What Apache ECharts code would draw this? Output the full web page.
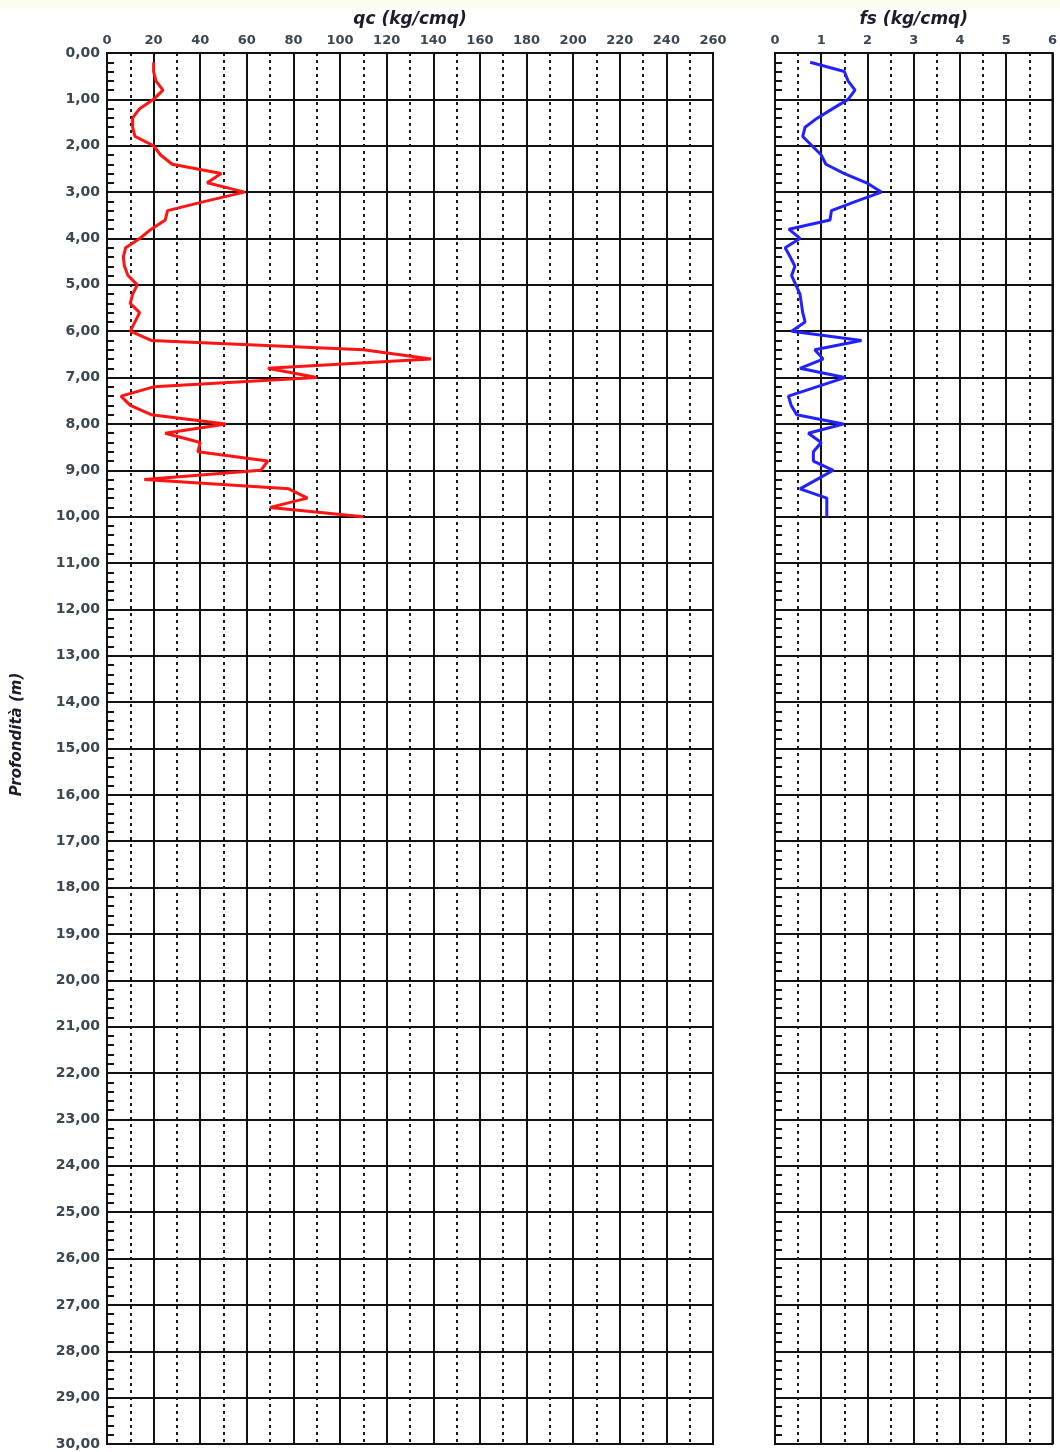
<!DOCTYPE html>
<html>
<head>
<meta charset="utf-8">
<title>Prova penetrometrica statica - qc / fs</title>
<script src="https://cdn.jsdelivr.net/npm/echarts@6/dist/echarts.min.js"></script>
<style>
  html, body { margin: 0; padding: 0; background: #ffffff; }
  #chart { width: 1060px; height: 1452px; }
</style>
</head>
<body>
<div id="chart"></div>
<script>
// Depths (m) at which the readings were taken
const depths = [
  0.2, 0.4, 0.6, 0.8, 1.0, 1.2, 1.4, 1.6, 1.8, 2.0,
  2.2, 2.4, 2.6, 2.8, 3.0, 3.2, 3.4, 3.6, 3.8, 4.0,
  4.2, 4.4, 4.6, 4.8, 5.0, 5.2, 5.4, 5.6, 5.8, 6.0,
  6.2, 6.4, 6.6, 6.8, 7.0, 7.2, 7.4, 7.6, 7.8, 8.0,
  8.2, 8.4, 8.6, 8.8, 9.0, 9.2, 9.4, 9.6, 9.8, 10.0
];

// Cone resistance qc (kg/cmq)
const qcValues = [
  20, 20, 21, 24, 20, 14, 11, 11, 12, 20,
  23, 28, 49, 43, 59, 42, 26, 25, 19, 14,
  8, 7, 7.5, 9, 13, 11, 10, 14, 12, 10,
  19, 110, 139, 69, 90, 20, 6, 10, 19, 51,
  25, 40, 39, 69, 66, 16, 78, 86, 70, 110
];

// Sleeve friction fs (kg/cmq)
const fsValues = [
  0.76, 1.5, 1.58, 1.73, 1.58, 1.25, 0.92, 0.65, 0.6, 0.8,
  1.0, 1.1, 1.5, 1.98, 2.3, 1.75, 1.22, 1.19, 0.3, 0.54,
  0.22, 0.33, 0.43, 0.36, 0.45, 0.54, 0.57, 0.6, 0.65, 0.36,
  1.87, 0.86, 1.04, 0.54, 1.51, 0.9, 0.29, 0.35, 0.47, 1.48,
  0.72, 1.0, 0.83, 0.83, 1.26, 0.9, 0.54, 1.12, 1.12, 1.12
];

// Axis ranges
const depthMax = 30;
const qcMax = 260, qcStep = 20;
const fsMax = 6, fsStep = 1;

const FONT = '"DejaVu Sans", Verdana, sans-serif';
const labelColor = '#3a4650';
const gridColor = '#111111';

const chart = echarts.init(document.getElementById('chart'), null, { renderer: 'canvas' });

function depthLabel(v) {
  return v.toFixed(2).replace('.', ',');
}

function makeXAxis(gridIndex, max, step, name) {
  return {
    type: 'value',
    gridIndex: gridIndex,
    position: 'top',
    min: 0,
    max: max,
    interval: step,
    name: name,
    nameLocation: 'middle',
    nameGap: 25,
    nameTextStyle: { fontFamily: FONT, fontSize: 17, fontWeight: 'bold', fontStyle: 'italic', color: '#1c1c2a' },
    axisLine: { show: true, lineStyle: { color: gridColor, width: 2 } },
    axisTick: { show: false },
    axisLabel: { show: true, margin: 6, fontFamily: FONT, fontSize: 13, fontWeight: 'bold', color: labelColor },
    splitLine: { show: true, lineStyle: { color: gridColor, width: 2 } },
    minorTick: { show: false, splitNumber: 2 },
    minorSplitLine: { show: true, lineStyle: { color: '#1a1a1a', width: 2, type: [3, 4] } }
  };
}

function makeYAxis(gridIndex, showLabels) {
  return {
    type: 'value',
    gridIndex: gridIndex,
    inverse: true,
    min: 0,
    max: depthMax,
    interval: 1,
    name: showLabels ? 'Profondità (m)' : '',
    nameLocation: 'middle',
    nameGap: 82,
    nameRotate: 90,
    nameTextStyle: {
      fontFamily: FONT, fontSize: 15, fontWeight: 'bold', fontStyle: 'italic', color: '#1c1c2a',
      padding: [0, 0, 0, 28]
    },
    axisLine: { show: true, lineStyle: { color: gridColor, width: 2 } },
    axisTick: { show: true, inside: true, length: 7, lineStyle: { color: gridColor, width: 2 } },
    minorTick: { show: true, splitNumber: 5, length: 7, lineStyle: { color: gridColor, width: 2 } },
    axisLabel: {
      show: showLabels, margin: 7, fontFamily: FONT, fontSize: 14, fontWeight: 'bold', color: labelColor,
      formatter: depthLabel
    },
    splitLine: { show: true, lineStyle: { color: gridColor, width: 2 } }
  };
}

const qcData = depths.map((d, i) => [qcValues[i], d]);
const fsData = depths.map((d, i) => [fsValues[i], d]);

chart.setOption({
  backgroundColor: '#ffffff',
  animation: false,
  graphic: [
    { type: 'rect', shape: { x: 0, y: 0, width: 1060, height: 8 }, style: { fill: '#fbfbee' }, z: -10 }
  ],
  grid: [
    { left: 107, top: 53, width: 606, height: 1391, show: true, borderColor: gridColor, borderWidth: 2, backgroundColor: 'transparent' },
    { left: 775, top: 53, width: 278, height: 1391, show: true, borderColor: gridColor, borderWidth: 2, backgroundColor: 'transparent' }
  ],
  xAxis: [
    makeXAxis(0, qcMax, qcStep, 'qc (kg/cmq)'),
    makeXAxis(1, fsMax, fsStep, 'fs (kg/cmq)')
  ],
  yAxis: [
    makeYAxis(0, true),
    makeYAxis(1, false)
  ],
  series: [
    {
      name: 'qc',
      type: 'line',
      xAxisIndex: 0,
      yAxisIndex: 0,
      data: qcData,
      showSymbol: false,
      symbol: 'none',
      lineStyle: { color: '#ff1414', width: 3 },
      z: 5
    },
    {
      name: 'fs',
      type: 'line',
      xAxisIndex: 1,
      yAxisIndex: 1,
      data: fsData,
      showSymbol: false,
      symbol: 'none',
      lineStyle: { color: '#2222ff', width: 3 },
      z: 5
    }
  ]
});
</script>
</body>
</html>
